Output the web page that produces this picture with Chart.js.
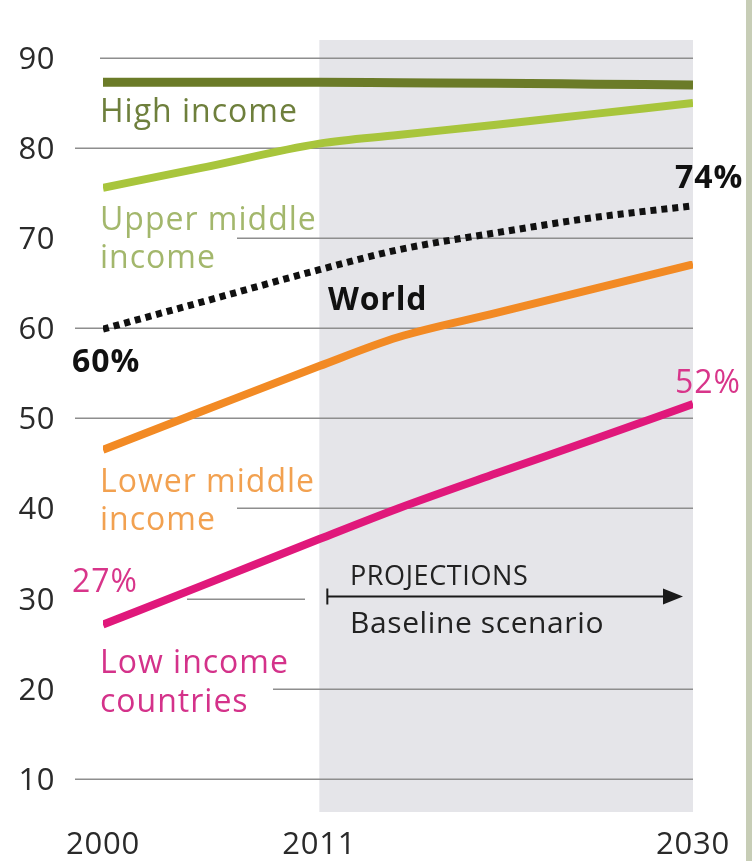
<!DOCTYPE html>
<html>
<head>
<meta charset="utf-8">
<script src="https://cdn.jsdelivr.net/npm/chart.js@4.4.1/dist/chart.umd.min.js"></script>
<style>
  html, body { margin: 0; padding: 0; background: #ffffff; }
  #wrap { width: 752px; height: 861px; position: relative; }
  canvas { display: block; }
</style>
</head>
<body>
<div id="wrap"><canvas id="c" width="752" height="861"></canvas></div>
<script>
// ---- Data ----
const years       = [2000, 2005, 2011, 2015, 2020, 2025, 2030];
const highIncome  = [87.3, 87.3, 87.3, 87.25, 87.2, 87.1, 87.0];
const upperMiddle = [75.6, 77.8, 80.5, 81.45, 82.6, 83.8, 85.0];
const world       = [59.9, 62.9, 66.5, 68.7, 70.6, 72.3, 73.6];
const lowerMiddle = [46.5, 50.75, 55.8, 59.0, 61.7, 64.4, 67.1];
const lowIncome   = [27.1, 31.4, 36.6, 40.0, 43.9, 47.7, 51.6];

const yTicks = [10, 20, 30, 40, 50, 60, 70, 80, 90];
const xTicks = [2000, 2011, 2030];
const projectionStart = 2011;
const projectionEnd = 2030;

const seriesLabels = {
  high: ["High income"],
  upper: ["Upper middle", "income"],
  world: ["World"],
  lower: ["Lower middle", "income"],
  low: ["Low income", "countries"]
};
const worldStartLabel = "60%";
const worldEndLabel = "74%";
const lowStartLabel = "27%";
const lowEndLabel = "52%";
const projectionTitle = "PROJECTIONS";
const projectionSub = "Baseline scenario";

// ---- Styles ----
const FONT = "'Open Sans', 'Noto Sans', sans-serif";
const C_HIGH = "#6b7b28";
const C_UPPER = "#a8c53c";
const C_WORLD = "#111111";
const C_LOWER = "#f28a24";
const C_LOW = "#e0187b";

function pts(arr) { return years.map((y, i) => ({ x: y, y: arr[i] })); }

function drawText(ctx, s, x, y, font, color, align, spacing) {
  ctx.save();
  ctx.font = font;
  ctx.fillStyle = color;
  ctx.textAlign = align || "left";
  ctx.textBaseline = "alphabetic";
  if ('letterSpacing' in ctx) ctx.letterSpacing = spacing || "0px";
  ctx.fillText(s, x, y);
  ctx.restore();
}

const backgroundPlugin = {
  id: "bgPlugin",
  beforeDraw(chart) {
    const ctx = chart.ctx;
    ctx.save();
    ctx.fillStyle = "#ffffff";
    ctx.fillRect(0, 0, chart.width, chart.height);
    // right edge strip
    ctx.fillStyle = "#c7cdb6";
    ctx.fillRect(746, 0, chart.width - 746, chart.height);
    ctx.restore();
  },
  beforeDatasetsDraw(chart) {
    const ctx = chart.ctx;
    const xs = chart.scales.x, ys = chart.scales.y, a = chart.chartArea;
    const x0 = xs.getPixelForValue(projectionStart);
    const x1 = xs.getPixelForValue(projectionEnd);
    ctx.save();
    // projection band
    ctx.fillStyle = "#e5e5e9";
    ctx.fillRect(x0, a.top, x1 - x0, a.bottom - a.top);

    // grid lines (starting where labels leave room)
    const gridStart = {90: 100, 80: 75, 70: 237, 60: 75, 50: 75, 40: 237, 30: 187, 20: 273, 10: 75};
    ctx.strokeStyle = "#8e8e8e";
    ctx.lineWidth = 1.5;
    yTicks.forEach(v => {
      const y = Math.round(ys.getPixelForValue(v)) + 0.25;
      let xe = x1;
      if (v === 30) xe = 305;
      ctx.beginPath();
      ctx.moveTo(gridStart[v], y);
      ctx.lineTo(xe, y);
      ctx.stroke();
    });

    // y tick labels
    yTicks.forEach(v => {
      const y = ys.getPixelForValue(v);
      drawText(ctx, String(v), 55, y + 11, "31px " + FONT, "#2a2a2a", "right", "0.5px");
    });
    // x tick labels
    xTicks.forEach(v => {
      const x = xs.getPixelForValue(v);
      drawText(ctx, String(v), x, 854, "31px " + FONT, "#2a2a2a", "center", "0.8px");
    });
    ctx.restore();
  },
  afterDatasetsDraw(chart) {
    const ctx = chart.ctx;
    const xs = chart.scales.x, ys = chart.scales.y;
    const lf = "32px " + FONT;
    const bf = "bold 32px " + FONT;
    const sp = "1px";

    drawText(ctx, seriesLabels.high[0], 100, 122, lf, "#6e7f3c", "left", sp);
    drawText(ctx, seriesLabels.upper[0], 100, 230, lf, "#a3b76c", "left", sp);
    drawText(ctx, seriesLabels.upper[1], 100, 268, lf, "#a3b76c", "left", sp);
    drawText(ctx, seriesLabels.world[0], 328, 310, bf, "#111111", "left", "0.8px");
    drawText(ctx, worldStartLabel, 72, 372, bf, "#111111", "left", "1px");
    drawText(ctx, worldEndLabel, 675, 188, bf, "#111111", "left", "1px");
    drawText(ctx, seriesLabels.lower[0], 100, 492, lf, "#f2a150", "left", sp);
    drawText(ctx, seriesLabels.lower[1], 100, 530, lf, "#f2a150", "left", sp);
    drawText(ctx, lowStartLabel, 72, 592, "32px " + FONT, "#d8358a", "left", "1px");
    drawText(ctx, lowEndLabel, 675, 393, "32px " + FONT, "#d8358a", "left", "1px");
    drawText(ctx, seriesLabels.low[0], 100, 673, lf, "#d4328a", "left", sp);
    drawText(ctx, seriesLabels.low[1], 100, 712, lf, "#d4328a", "left", sp);

    // projection arrow
    const ax0 = xs.getPixelForValue(projectionStart) + 8;
    const ax1 = xs.getPixelForValue(projectionEnd) - 10;
    const ay = ys.getPixelForValue(30) - 2;
    ctx.save();
    ctx.strokeStyle = "#1a1a1a";
    ctx.fillStyle = "#1a1a1a";
    ctx.lineWidth = 2;
    ctx.beginPath();
    ctx.moveTo(ax0, ay); ctx.lineTo(ax1 - 16, ay);
    ctx.moveTo(ax0, ay - 8); ctx.lineTo(ax0, ay + 8);
    ctx.stroke();
    ctx.beginPath();
    ctx.moveTo(ax1, ay);
    ctx.lineTo(ax1 - 20, ay - 8);
    ctx.lineTo(ax1 - 20, ay + 8);
    ctx.closePath();
    ctx.fill();
    ctx.restore();
    drawText(ctx, projectionTitle, 350, 585, "27px " + FONT, "#222222", "left", "0.6px");
    drawText(ctx, projectionSub, 350, 633, "30px " + FONT, "#222222", "left", "0.6px");
  }
};

const ds = (label, arr, color, width, dash) => ({
  label, data: pts(arr), borderColor: color, backgroundColor: color,
  borderWidth: width, borderDash: dash || [], borderCapStyle: "butt",
  borderJoinStyle: "round", pointRadius: 0, fill: false,
  cubicInterpolationMode: "monotone"
});

new Chart(document.getElementById("c"), {
  type: "line",
  data: {
    datasets: [
      ds("High income", highIncome, C_HIGH, 9),
      ds("Upper middle income", upperMiddle, C_UPPER, 8),
      ds("World", world, C_WORLD, 7, [6, 5]),
      ds("Lower middle income", lowerMiddle, C_LOWER, 8),
      ds("Low income countries", lowIncome, C_LOW, 8)
    ]
  },
  options: {
    responsive: false,
    animation: false,
    devicePixelRatio: 1,
    layout: { padding: { left: 103, right: 59, top: 40, bottom: 49 } },
    scales: {
      x: { type: "linear", min: 2000, max: 2030, display: false },
      y: { type: "linear", min: 6.3, max: 92, display: false }
    },
    plugins: { legend: { display: false }, tooltip: { enabled: false } },
    events: []
  },
  plugins: [backgroundPlugin]
});
</script>
</body>
</html>
